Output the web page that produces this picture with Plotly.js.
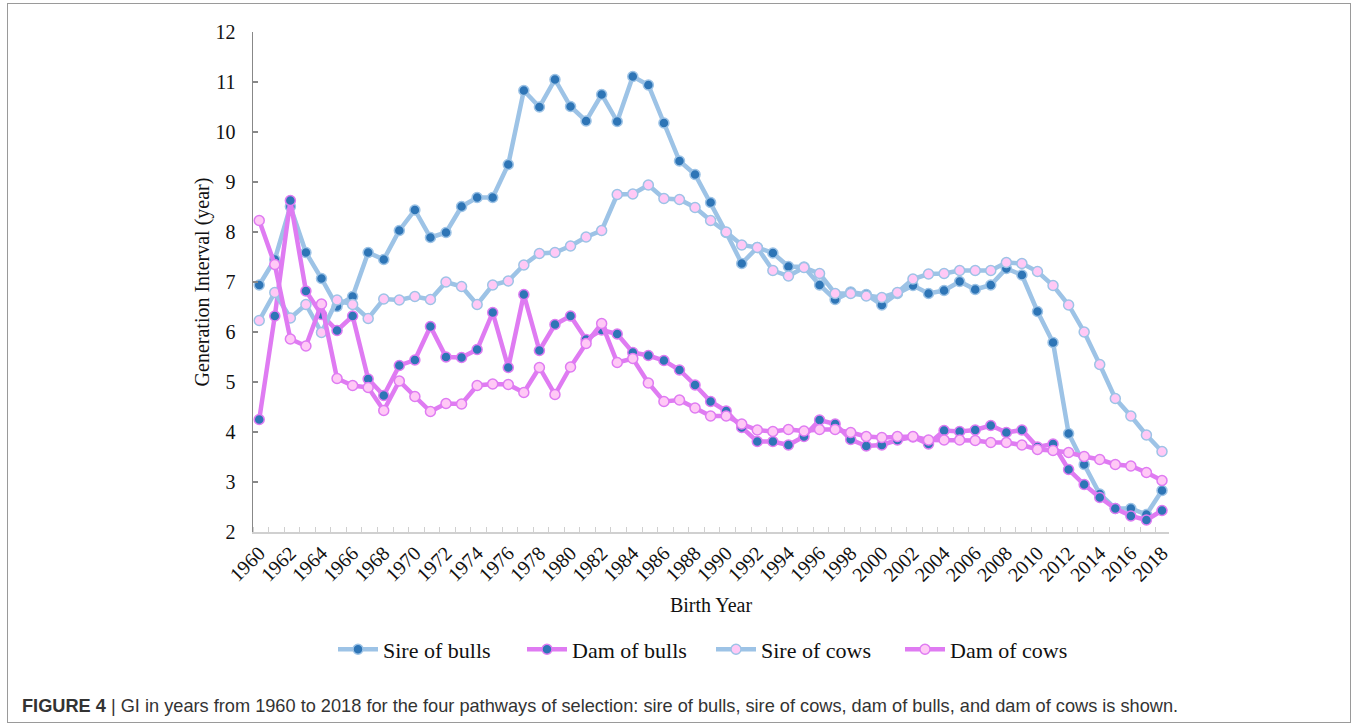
<!DOCTYPE html>
<html>
<head>
<meta charset="utf-8">
<script src="https://cdn.plot.ly/plotly-3.0.1.min.js"></script>
<style>
  html, body { margin: 0; padding: 0; background: #fff; }
  #chart { position: absolute; left: 0; top: 0; width: 1357px; height: 727px; }
  #frame { position: absolute; left: 7px; top: 3px; width: 1342px; height: 718px; border: 1px solid #9a9a9a; pointer-events: none; }
  #caption { position: absolute; left: 22px; top: 696px; font-family: "Liberation Sans", Arial, sans-serif; font-size: 18.2px; color: #333; white-space: nowrap; }
</style>
</head>
<body>
<div id="chart"></div>
<div id="frame"></div>
<div id="caption"><b>FIGURE 4</b> | GI in years from 1960 to 2018 for the four pathways of selection: sire of bulls, sire of cows, dam of bulls, and dam of cows is shown.</div>
<script>
const years = [];
for (let y = 1960; y <= 2018; y++) years.push(y);

const sireOfBulls = [6.94, 7.45, 8.51, 7.59, 7.07, 6.51, 6.71, 7.59, 7.45, 8.03,
  8.44, 7.89, 7.99, 8.51, 8.69, 8.69, 9.35, 10.83, 10.50, 11.05,
  10.51, 10.22, 10.75, 10.21, 11.11, 10.94, 10.18, 9.42, 9.15, 8.59,
  7.99, 7.37, 7.69, 7.58, 7.31, 7.30, 6.94, 6.65, 6.80, 6.75,
  6.54, 6.77, 6.93, 6.77, 6.83, 7.01, 6.85, 6.94, 7.27, 7.14,
  6.41, 5.79, 3.97, 3.35, 2.76, 2.47, 2.47, 2.35, 2.83];

const damOfBulls = [4.25, 6.32, 8.63, 6.82, 6.35, 6.03, 6.32, 5.06, 4.73, 5.33,
  5.44, 6.11, 5.50, 5.49, 5.65, 6.39, 5.29, 6.75, 5.63, 6.15,
  6.32, 5.85, 6.04, 5.96, 5.59, 5.53, 5.43, 5.24, 4.94, 4.61,
  4.42, 4.09, 3.81, 3.81, 3.74, 3.91, 4.24, 4.16, 3.85, 3.72,
  3.74, 3.84, 3.90, 3.76, 4.03, 4.01, 4.04, 4.13, 3.99, 4.04,
  3.70, 3.76, 3.25, 2.95, 2.69, 2.47, 2.32, 2.24, 2.43];

const sireOfCows = [6.23, 6.79, 6.28, 6.55, 5.99, 6.64, 6.55, 6.27, 6.66, 6.64,
  6.71, 6.65, 7.00, 6.91, 6.55, 6.94, 7.02, 7.34, 7.57, 7.59,
  7.72, 7.90, 8.03, 8.75, 8.76, 8.94, 8.67, 8.65, 8.49, 8.23,
  8.00, 7.74, 7.69, 7.23, 7.12, 7.29, 7.17, 6.77, 6.77, 6.72,
  6.69, 6.79, 7.06, 7.16, 7.17, 7.23, 7.23, 7.23, 7.39, 7.37,
  7.21, 6.93, 6.54, 6.00, 5.35, 4.67, 4.32, 3.94, 3.61];

const damOfCows = [8.23, 7.35, 5.86, 5.72, 6.56, 5.07, 4.93, 4.89, 4.43, 5.02,
  4.71, 4.41, 4.57, 4.56, 4.93, 4.96, 4.95, 4.79, 5.29, 4.75,
  5.30, 5.77, 6.17, 5.39, 5.47, 4.98, 4.61, 4.64, 4.48, 4.32,
  4.32, 4.16, 4.04, 4.01, 4.05, 4.02, 4.05, 4.05, 3.99, 3.91,
  3.89, 3.91, 3.91, 3.84, 3.84, 3.84, 3.83, 3.79, 3.79, 3.74,
  3.65, 3.63, 3.59, 3.51, 3.45, 3.35, 3.32, 3.19, 3.03];

const seriesNames = ["Sire of bulls", "Dam of bulls", "Sire of cows", "Dam of cows"];
const tickYears = years.filter(y => y % 2 === 0);

const blueLine = "#9dc3e6";
const pinkLine = "#df7bf2";
const darkDot = "#2e75b6";
const lightDot = "#ffc9f6";

function mk(name, data, lineColor, dotColor) {
  return {
    type: "scatter", mode: "lines+markers", name: name,
    x: years, y: data,
    line: { color: lineColor, width: 4.5 },
    marker: { color: dotColor, size: 10, line: { color: lineColor, width: 1.5 } }
  };
}

const traces = [
  mk(seriesNames[0], sireOfBulls, blueLine, darkDot),
  mk(seriesNames[1], damOfBulls, pinkLine, darkDot),
  mk(seriesNames[2], sireOfCows, blueLine, lightDot),
  mk(seriesNames[3], damOfCows, pinkLine, lightDot)
];

const serif = "Liberation Serif, Times New Roman, serif";

const layout = {
  width: 1357, height: 727,
  margin: { l: 253, r: 188, t: 32, b: 195 },
  paper_bgcolor: "#fff", plot_bgcolor: "#fff",
  font: { family: serif, color: "#111" },
  showlegend: true,
  legend: {
    orientation: "h", x: 0.5, xanchor: "center", y: -0.235, yanchor: "middle",
    font: { family: serif, size: 22, color: "#111" },
    itemwidth: 40, entrywidth: 134
  },
  xaxis: {
    range: [1959.6, 2018.45],
    tickvals: tickYears, ticktext: tickYears.map(String),
    tickangle: -45,
    tickfont: { family: serif, size: 20, color: "#111" },
    ticks: "", showgrid: false, zeroline: false,
    showline: true, linecolor: "#d0d0d0", linewidth: 1.5,
    minor: { tick0: 1959.6, dtick: 1, ticks: "inside", ticklen: 5, tickcolor: "#d0d0d0", tickwidth: 1, showgrid: false },
    title: { text: "Birth Year", font: { family: serif, size: 20, color: "#111" }, standoff: 13 }
  },
  yaxis: {
    range: [2, 12], dtick: 1,
    tickfont: { family: serif, size: 20, color: "#111" },
    ticks: "inside", ticklen: 5, tickcolor: "#888", tickwidth: 1.5,
    ticklabelstandoff: 12,
    showgrid: false, zeroline: false,
    showline: true, linecolor: "#888", linewidth: 1.5,
    title: { text: "Generation Interval (year)", font: { family: serif, size: 20, color: "#111" }, standoff: 0 }
  }
};

Plotly.newPlot("chart", traces, layout, { displayModeBar: false, staticPlot: true });
</script>
</body>
</html>
